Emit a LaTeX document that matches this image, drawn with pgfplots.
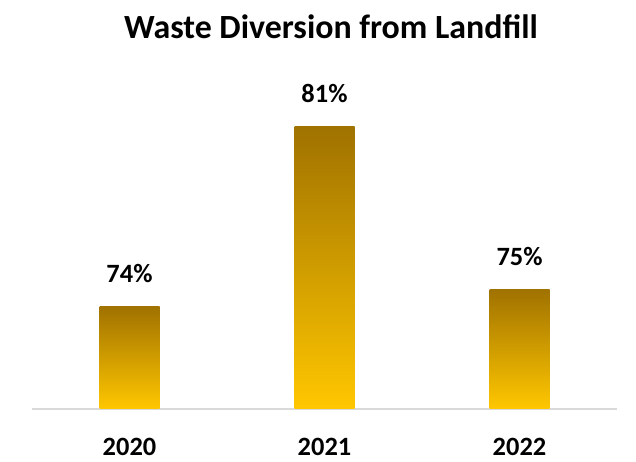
\documentclass[border=0pt]{standalone}
\usepackage{fontspec}
\setmainfont{Carlito}
\usepackage{pgfplots}
\pgfplotsset{compat=1.18}

\definecolor{barTop}{HTML}{A07200}
\definecolor{barMid}{HTML}{D9A000}
\definecolor{barBot}{HTML}{FFC700}
\definecolor{baseGray}{HTML}{D9D9D9}

\pgfplotsset{
    goldbar/.style={draw=none, shading=axis, top color=barTop,
        middle color=barMid, bottom color=barBot},
}

\begin{document}
\begin{tikzpicture}
    \useasboundingbox (0,0) rectangle (636bp,462bp);
    % title
    \node[anchor=base, font=\bfseries\fontsize{34}{40}\selectfont]
        at (331bp,423bp) {Waste Diversion from Landfill};
    \begin{axis}[
        at={(32bp,53bp)},
        anchor=south west,
        scale only axis,
        width=585bp,
        height=397.4bp,
        xmin=-0.5, xmax=2.5,
        ymin=70, ymax=85.5,
        axis x line=bottom,
        axis y line=none,
        axis line style={draw=baseGray, line width=1.6bp, -},
        xtick={0,1,2},
        xticklabels={2020,2021,2022},
        ytick=\empty,
        major tick length=0pt,
        /pgf/number format/assume math mode=true,
        xticklabel style={anchor=base, yshift=-46bp,
            font=\bfseries\fontsize{26.5}{30}\selectfont},
        ybar,
        bar width=60bp,
        bar shift=0pt,
        nodes near coords={\pgfmathprintnumber[fixed,precision=0]{\pgfplotspointmeta}\%},
        every node near coord/.append style={anchor=base, yshift=24bp, inner sep=0pt,
            text=black, font=\bfseries\fontsize{26.5}{30}\selectfont},
    ]
        % one plot per bar so that each bar gets its own gradient
        \addplot[goldbar] coordinates {(0, 74.0)};
        \addplot[goldbar] coordinates {(1, 81.0)};
        \addplot[goldbar] coordinates {(2, 74.67)};
    \end{axis}
\end{tikzpicture}
\end{document}
